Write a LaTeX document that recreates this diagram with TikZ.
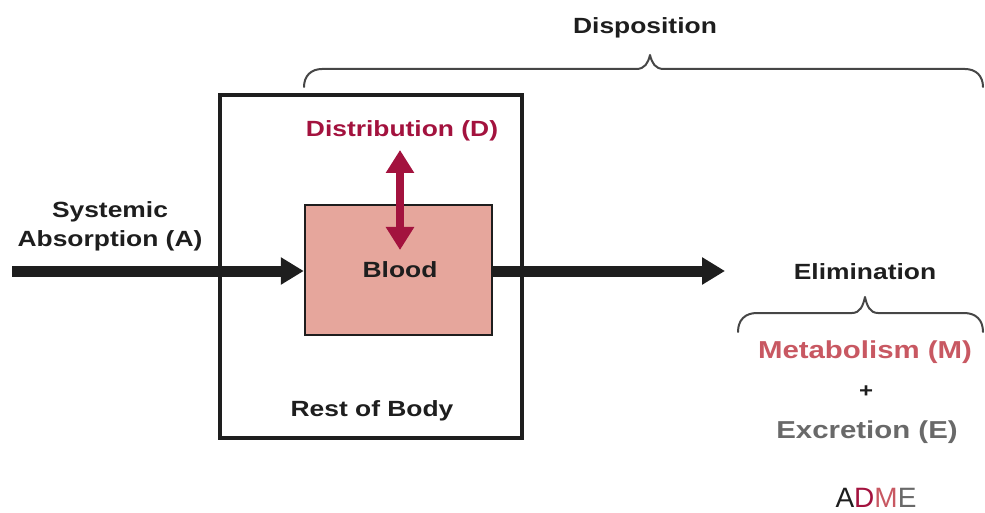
\documentclass[tikz,border=0pt]{standalone}
\usepackage{fontspec}
\setmainfont{Liberation Sans}[FakeStretch=1.2]
\newfontfamily\plainsans{Liberation Sans}
\usetikzlibrary{arrows.meta}
\definecolor{ink}{RGB}{30,30,30}
\definecolor{crimson}{RGB}{163,18,62}
\definecolor{rose}{RGB}{200,88,98}
\definecolor{greytext}{RGB}{105,105,105}
\definecolor{bloodfill}{RGB}{230,166,156}
\definecolor{bracegrey}{RGB}{70,70,70}
\tikzset{
  lbl/.style={inner sep=0pt, anchor=base, font=\bfseries\fontsize{22}{26}\selectfont, text=ink},
  biglbl/.style={lbl, font=\bfseries\fontsize{24.5}{28}\selectfont},
  bodybox/.style={draw=ink, line width=3.5pt, minimum width=302pt, minimum height=343pt, inner sep=0pt},
  bloodbox/.style={draw=ink, fill=bloodfill, line width=2.5pt, minimum width=187pt, minimum height=130pt, inner sep=0pt},
  flow/.style={draw=ink, line width=11pt, -{Triangle[length=23pt,width=26pt]}},
  exchange/.style={draw=crimson, line width=8pt, {Triangle[length=23pt,width=27pt]}-{Triangle[length=23pt,width=27pt]}},
  bracket/.style={draw=bracegrey, line width=2pt, line cap=round, line join=round}
}
\begin{document}
\begin{tikzpicture}[x=1pt,y=-1pt]
\useasboundingbox (0,0) rectangle (985,513);

% compartments
\node[bodybox] (body) at (371,266.5) {};
\node[bloodbox] (blood) at (398.5,270) {};

% labels
\node[lbl] (bloodlbl) at (400,277) {Blood};
\node[lbl] (rest) at (372,416) {Rest of Body};
\node[lbl, text=crimson] (dist) at (402,137) {Distribution (D)};
\node[lbl] (absorb) at (110,218) {Systemic};
\node[lbl] (absorb2) at (110,247) {Absorption (A)};
\node[lbl] (dispo) at (645,34) {Disposition};
\node[lbl] (elim) at (865,279) {Elimination};
\node[biglbl, text=rose] (metab) at (865,358) {Metabolism (M)};
\node[lbl, font=\bfseries\fontsize{20}{22}\selectfont] (plus) at (866,397) {+};
\node[biglbl, text=greytext] (excr) at (867,438) {Excretion (E)};
\node[inner sep=0pt, anchor=base, font=\plainsans\fontsize{28}{30}\selectfont] (adme) at (876,507)
  {\textcolor{ink}{A}\textcolor{crimson}{D}\textcolor{rose}{M}\textcolor{greytext}{E}};

% flows
\coordinate (src) at (12,271);
\coordinate (sink) at (725,271);
\draw[flow] (src) -- (src -| blood.west);
\draw[flow] (sink -| blood.east) -- (sink);

% exchange between blood and tissues
\coordinate (dtop) at (400,150);
\coordinate (dbot) at (400,250);
\draw[exchange] (dtop) -- (dbot);

% disposition brace
\coordinate (dl) at (304,87);
\coordinate (dtip) at (650,55);
\coordinate (dr) at (983,87);
\draw[bracket] (dl) .. controls (304,76) and (311,69) .. (322,69) -- (636,69)
  .. controls (645,69) and (648,63) .. (dtip)
  .. controls (652,63) and (655,69) .. (664,69) -- (965,69)
  .. controls (976,69) and (983,76) .. (dr);

% elimination brace
\coordinate (el) at (738,332);
\coordinate (etip) at (865,297);
\coordinate (er) at (983,332);
\draw[bracket] (el) .. controls (738,320) and (745,313) .. (757,313) -- (852,313)
  .. controls (860,313) and (863,306) .. (etip)
  .. controls (867,306) and (870,313) .. (878,313) -- (964,313)
  .. controls (976,313) and (983,320) .. (er);
\end{tikzpicture}
\end{document}
